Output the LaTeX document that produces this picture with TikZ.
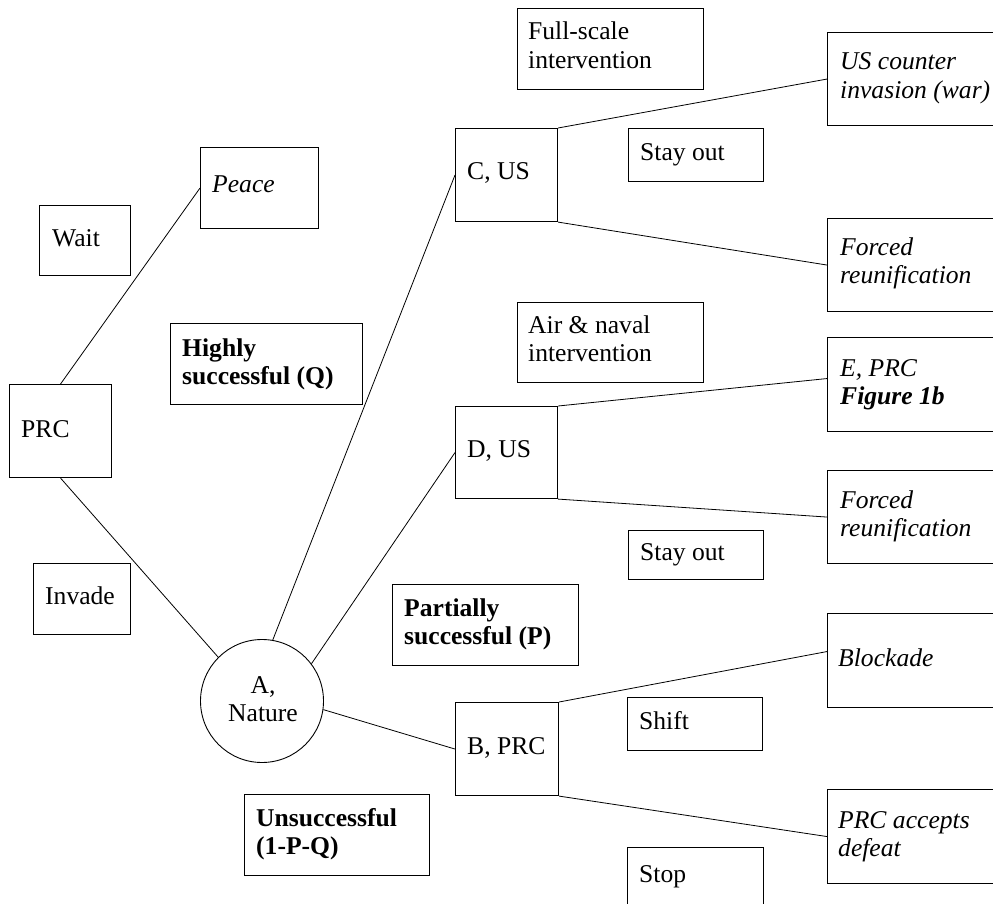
\documentclass[tikz,border=0pt]{standalone}
\usepackage{fontspec}
\setmainfont{Liberation Serif}
\newcommand{\twol}[2]{\begin{tabular}[t]{@{}l@{}}#1\\#2\end{tabular}}
\newcommand{\twoc}[2]{\begin{tabular}[t]{@{}c@{}}#1\\#2\end{tabular}}
\begin{document}
\begin{tikzpicture}[x=1pt,y=-1pt,
  box/.style={draw, line width=1.1pt, rectangle, inner sep=0pt, anchor=north west},
  txt/.style={inner sep=0pt, anchor=base west, font=\fontsize{25.6}{28.5}\selectfont},
  itxt/.style={txt, font=\fontsize{25.6}{28.5}\selectfont\itshape},
  btxt/.style={txt, font=\fontsize{25.6}{28.5}\selectfont\bfseries},
  link/.style={draw, line width=0.8pt}]
\useasboundingbox (0,0) rectangle (993,904);
\clip (0,0) rectangle (993,904);
% boxes
\node[box, minimum width=118pt, minimum height=81pt] (peace) at (200,147) {};
\node[box, minimum width=91pt, minimum height=70pt] (wait) at (39,205) {};
\node[box, minimum width=192pt, minimum height=81pt] (highly) at (170,323) {};
\node[box, minimum width=102pt, minimum height=93pt] (prc) at (9,384) {};
\node[box, minimum width=97pt, minimum height=71pt] (invade) at (33,563) {};
\node[box, minimum width=186pt, minimum height=81pt] (fullscale) at (517,8) {};
\node[box, minimum width=200pt, minimum height=93pt] (uscounter) at (827,32) {};
\node[box, minimum width=102pt, minimum height=93pt] (cus) at (455,128) {};
\node[box, minimum width=135pt, minimum height=53pt] (stayouta) at (628,128) {};
\node[box, minimum width=200pt, minimum height=93pt] (forceda) at (827,218) {};
\node[box, minimum width=186pt, minimum height=80pt] (airnaval) at (517,302) {};
\node[box, minimum width=200pt, minimum height=94pt] (eprc) at (827,337) {};
\node[box, minimum width=102pt, minimum height=92pt] (dus) at (455,406) {};
\node[box, minimum width=200pt, minimum height=93pt] (forcedb) at (827,470) {};
\node[box, minimum width=135pt, minimum height=49pt] (stayoutb) at (628,530) {};
\node[box, minimum width=186pt, minimum height=81pt] (partial) at (392,584) {};
\node[box, minimum width=200pt, minimum height=94pt] (blockade) at (827,613) {};
\node[box, minimum width=135pt, minimum height=53pt] (shift) at (627,697) {};
\node[box, minimum width=103pt, minimum height=93pt] (bprc) at (455,702) {};
\node[box, minimum width=185pt, minimum height=81pt] (unsucc) at (244,794) {};
\node[box, minimum width=200pt, minimum height=94pt] (prcaccepts) at (827,789) {};
\node[box, minimum width=136pt, minimum height=90pt] (stop) at (627,847) {};
\node[draw, line width=0.9pt, circle, minimum size=123pt, inner sep=0pt] (A) at (262,701) {};
% texts
\node[itxt] (peace-t) at (212,193) {Peace};
\node[txt] (wait-t) at (52,246) {Wait};
\node[btxt] (highly-t) at (182,356) {\twol{Highly}{successful (Q)}};
\node[txt] (prc-t) at (21,437) {PRC};
\node[txt] (invade-t) at (45,604) {Invade};
\node[txt] (fullscale-t) at (528,40) {\twol{Full-scale}{intervention}};
\node[itxt] (uscounter-t) at (840,70) {\twol{US counter}{invasion (war)}};
\node[txt] (cus-t) at (467,180) {C, US};
\node[txt] (stayouta-t) at (640,161) {Stay out};
\node[itxt] (forceda-t) at (840,255) {\twol{Forced}{reunification}};
\node[txt] (airnaval-t) at (528,333) {\twol{Air \& naval}{intervention}};
\node[itxt] (eprc-t) at (840,376) {\twol{E, PRC}{\textbf{Figure 1b}}};
\node[txt] (dus-t) at (467,457) {D, US};
\node[itxt] (forcedb-t) at (840,508) {\twol{Forced}{reunification}};
\node[txt] (stayoutb-t) at (640,560) {Stay out};
\node[btxt] (partial-t) at (404,616) {\twol{Partially}{successful (P)}};
\node[itxt] (blockade-t) at (838,666) {Blockade};
\node[txt] (shift-t) at (639,729) {Shift};
\node[txt] (bprc-t) at (467,754) {B, PRC};
\node[txt, anchor=base] (A-t) at (263,693) {\twoc{A,}{Nature}};
\node[btxt] (unsucc-t) at (256,826) {\twol{Unsuccessful}{(1-P-Q)}};
\node[itxt] (prcaccepts-t) at (838,828) {\twol{PRC accepts}{defeat}};
\node[txt] (stop-t) at (639,882) {Stop};
% connectors
\path[link] (prc.north) -- (peace.west);
\path[link] (prc.south) -- (A.135);
\path[link] (A.80) -- (cus.west);
\path[link] (A.37) -- (dus.west);
\path[link] (A.-8) -- (bprc.west);
\path[link] (cus.north east) -- (uscounter.west);
\path[link] (cus.south east) -- (forceda.west);
\path[link] (dus.north east) -- ([yshift=6pt]eprc.west);
\path[link] (dus.south east) -- (forcedb.west);
\path[link] (bprc.north east) -- ([yshift=9pt]blockade.west);
\path[link] (bprc.south east) -- (prcaccepts.west);
\end{tikzpicture}
\end{document}
